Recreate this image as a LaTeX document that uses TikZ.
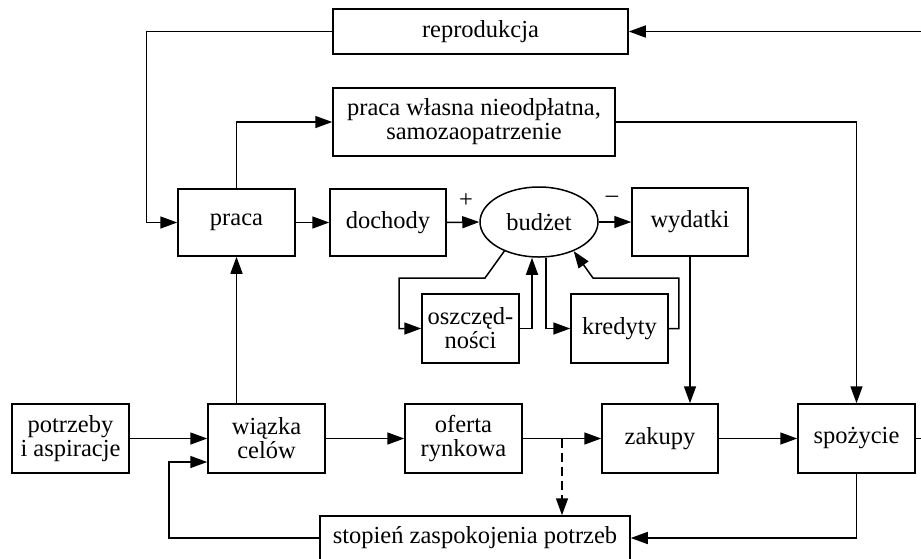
\documentclass[tikz,border=0pt]{standalone}
\usepackage{fontspec}
\setmainfont{Liberation Serif}
\usetikzlibrary{arrows.meta,shapes.geometric,calc}
\tikzset{
  box/.style={draw, line width=1.5pt, inner sep=0pt, align=center, font=\fontsize{24.5}{24}\selectfont},
  arr/.style={line width=1.5pt, -{Triangle[length=17pt,width=12pt]}},
}
\begin{document}
\begin{tikzpicture}[x=1pt,y=-1pt]
\useasboundingbox (0,0) rectangle (921,558);
\clip (0,0) rectangle (921,558);
% nodes
\node[box, minimum width=295, minimum height=45] (rep) at (480.5,31.5) {reprodukcja};
\node[box, minimum width=282, minimum height=68] (pw) at (474,122) {praca własna nieodpłatna,\\samozaopatrzenie};
\node[box, minimum width=117, minimum height=67] (pra) at (236.5,222.5) {praca};
\node[box, minimum width=116, minimum height=67] (doc) at (388,222.5) {dochody};
\node[box, ellipse, minimum width=118, minimum height=70] (bud) at (539,222) {budżet};
\node[box, minimum width=116, minimum height=68] (wyd) at (690,222) {wydatki};
\node[box, minimum width=97, minimum height=69] (osz) at (470.5,328.5) {oszczęd-\\ności};
\node[box, minimum width=97, minimum height=69] (kre) at (619.5,328.5) {kredyty};
\node[box, minimum width=117, minimum height=69] (pot) at (70.5,438.5) {potrzeby\\i aspiracje};
\node[box, minimum width=117, minimum height=69] (wia) at (266.5,438.5) {wiązka\\celów};
\node[box, minimum width=117, minimum height=69] (ofe) at (463.5,438.5) {oferta\\rynkowa};
\node[box, minimum width=116, minimum height=69] (zak) at (660,438.5) {zakupy};
\node[box, minimum width=117, minimum height=69] (spo) at (856.5,438.5) {spożycie};
\node[box, minimum width=310, minimum height=44] (sto) at (475,538) {stopień zaspokojenia potrzeb};
% signs
\node[font=\fontsize{24.5}{24}\selectfont, inner sep=0pt] (plus) at (466,201) {+};
\node[font=\fontsize{24.5}{24}\selectfont, inner sep=0pt] (minus) at (612,199) {–};
% connectors
\draw[arr] (spo.east) -- ++(25,0) |- (rep.east);
\draw[arr] (rep.west) -- ++(-186,0) |- (pra.west);
\draw[arr] (pra.north) |- (pw.west);
\draw[arr] (pw.east) -| (spo.north);
\draw[arr] (pra.east) -- (doc.west);
\draw[arr] (doc.east) -- (bud.west);
\draw[arr] (bud.east) -- (wyd.west);
\draw[arr] (bud.-140) -- (485,278) -- (399,278) |- (osz.west);
\draw[arr] (osz.east) -| ([xshift=-7pt]bud.south);
\draw[arr] ([xshift=7pt]bud.south) |- (kre.west);
\draw[arr] (kre.east) -- ++(10,0) |- (593,278) -- (bud.-40);
\draw[arr] (wyd.south) -- (wyd.south |- zak.north);
\draw[arr] (wia.north -| pra.south) -- (pra.south);
\draw[arr] (pot.east) -- (wia.west);
\draw[arr] (wia.east) -- (ofe.west);
\draw[arr] (ofe.east) -- (zak.west);
\draw[arr] (zak.east) -- (spo.west);
\coordinate (dsplit) at (562,438.5);
\draw[arr, dash pattern=on 9pt off 5pt] (dsplit) -- (dsplit |- sto.north);
\draw[arr] (spo.south) |- (sto.east);
\draw[arr] (sto.west) -- (169,538) |- ([yshift=-23.5pt]wia.west);
\end{tikzpicture}
\end{document}
